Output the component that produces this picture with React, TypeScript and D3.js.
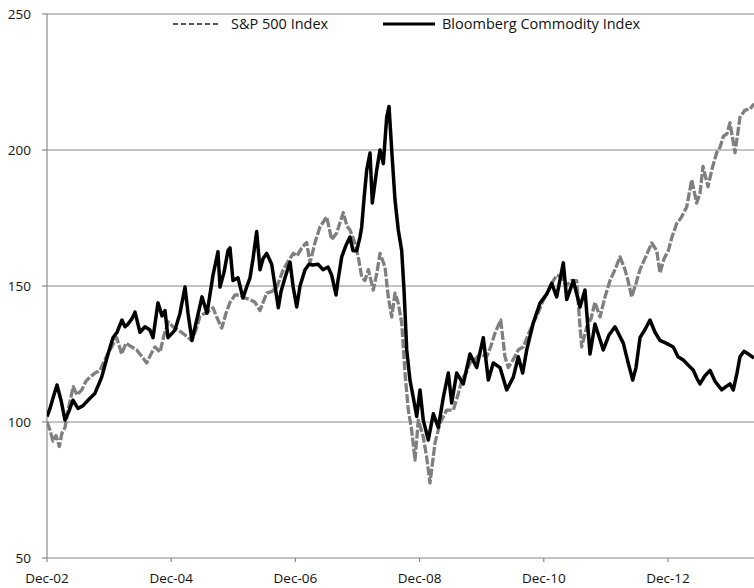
import React from "react";
import * as d3 from "d3";

// time in months since Dec-2002
const spxMonths = [0,0.58,1.16,1.74,2.38,2.9,3.48,4.25,5.08,5.8,6.71,7.54,8.31,9.28,10.24,11.21,12.17,13.47,14.43,15.27,16.04,17.33,18.36,19.27,20.1,20.87,21.84,22.61,23.44,24.35,25.37,26.67,27.96,28.79,29.57,30.53,31.5,32.08,32.79,33.76,34.59,35.36,36.33,37.29,38.26,39.23,40.19,41.16,42.45,43.48,44.39,45.66,46.57,47.6,48.31,49.22,50.18,50.82,51.79,52.75,54.05,55.01,55.98,57.26,57.97,58.55,59.52,60.15,60.81,61.45,62.09,63.05,63.77,64.35,65.31,65.95,66.61,67.25,67.88,68.54,69.18,69.82,70.47,71.11,71.75,72.71,73.37,74.01,74.98,75.94,77.24,78.51,79.42,80.14,80.97,81.74,82.71,83.67,84.97,85.8,86.57,87.67,88.5,89.14,90.11,91.07,92.04,92.95,93.97,94.88,95.9,96.81,97.84,98.55,99.46,100.29,101.26,102.36,102.8,103.32,104.29,105.12,105.89,106.86,107.83,108.79,109.76,110.72,111.69,112.27,112.98,113.82,114.59,115.75,116.85,117.82,118.45,119.23,120.06,120.77,121.68,122.51,123.61,124.58,125.54,126.18,126.76,127.73,128.5,129.41,130.05,130.69,131.4,131.98,132.95,133.91,134.88,135.85,136.62];
const spxValues = [100,97,93,95,91,96,98,106,113,110,111.8,115,116.5,118,119,123,126.5,131,125,129,128,126.5,124,121.7,125,127.6,125.7,132,136.8,135,133.8,132,130,134,139,140,141,142,138.6,134.5,140,144,146.7,146.7,145.6,145,144,141,147.4,148,149.6,156,159,162,161,164,166,158.5,166,171.7,175.4,167,169.5,177,172,170.6,165.8,160.7,153.3,152,156,148.5,155,162,157,146,138.6,147.4,143.7,136.4,118,104.4,97,86,100.7,94.5,87,77.6,92.3,99.6,104.4,104.4,110,115.4,118,121.7,123,125,124,128,132.7,137.5,124,120,123,126.5,127.6,132,136.4,140,144.8,148,152,154,153.3,150,152,152,140,127.6,135,138,144,138.6,146,152,156,160.7,156,152,146,151,156,161,165.8,163,154.8,160,163,168,173,175,179,189,180.5,184,194,186.5,193,199,201,205,206,210,199,212,214.7,215,217];

const cmdMonths = [0,0.58,1.35,1.93,2.71,3.48,4.25,5.02,5.99,6.96,7.92,9.28,10.57,11.79,12.75,13.53,14.49,15.07,15.65,16.43,17,17.97,18.94,19.9,20.48,21.45,22.22,22.8,23.38,24.73,25.7,26.67,27.25,28.02,28.99,29.95,30.92,32.08,33.04,33.43,34.2,34.98,35.36,35.94,36.91,37.87,38.65,39.23,39.81,40.52,41.16,41.74,42.45,43.42,44.06,44.7,45.22,45.99,46.96,47.54,48.25,48.89,49.86,50.63,51.4,52.37,53.33,54.3,55.01,55.85,56.23,56.95,57.78,58.55,59.13,59.85,60.48,60.81,61.26,61.78,62.42,62.86,63.71,64.35,64.99,65.64,66.09,66.61,67.25,67.88,68.54,68.99,69.51,70.14,70.78,71.44,72.08,72.71,73.68,74.65,75.61,76.58,77.55,78.2,79.17,80.44,81.74,83.03,84.31,85.28,86.24,87.54,88.83,90.11,91.07,91.92,92.7,93.97,95.27,96.56,97.53,98.49,99.77,100.43,101.7,103,103.96,104.93,105.89,107.5,108.6,109.76,111.36,112.27,113.18,113.82,114.59,115.56,116.52,117.49,118.45,119.61,121.02,121.93,122.96,123.86,124.89,125.6,126.18,127.15,128.12,129.08,130.38,131.21,131.98,132.62,133.33,133.91,134.69,135.52,136.62];
const cmdValues = [102,105,110,113.6,108,100.7,104,108,105,106,108,110.6,116.5,125,131,133,137.5,135,136,138,140.4,133,135,133.8,131,143.8,139,141,131,133.8,140,149.6,140,130,138,146,140,154,162.6,149.6,155,163,164,152,153,145.6,150,153,160,170,156,160,162,158,150,142,148,153,158.8,150,142.3,150,156,158,157.7,158,156,157,154,146.7,152,160.7,165,168,163,163,168,171.7,182,192.6,198.9,180.5,192.6,200,195,212,216,200,181.6,170.6,163,148.5,126.5,115.4,109,102,111.8,100.7,93.4,103,98,109,118,107,118,114,125,120,131,115.4,121.7,120,111.8,116.5,124,118,126.5,136.5,143.7,147,151,146,158.5,145,152,142.3,148.5,125,136,126.5,132,135,129,122,115.4,120,131,134,137.5,133,130,129,127.6,124,122.8,121,119,116,114,117,119,115,111.8,113,114,111.8,118,124,126,125,123.5];

const yTicks = [50, 100, 150, 200, 250];
const xTickMonths = [0, 24, 48, 72, 96, 120];
const xTickLabels = ["Dec-02", "Dec-04", "Dec-06", "Dec-08", "Dec-10", "Dec-12"];
const seriesNames = ["S&P 500 Index", "Bloomberg Commodity Index"];

const W = 754;
const H = 588;
const FONT = "'Open Sans', sans-serif";

export default function App() {
  const x = d3.scaleLinear().domain([0, 120]).range([47, 668]);
  const y = d3.scaleLinear().domain([50, 250]).range([558, 14]);
  const spx = spxMonths.map((m, i) => [m, spxValues[i]] as [number, number]);
  const cmd = cmdMonths.map((m, i) => [m, cmdValues[i]] as [number, number]);
  const line = d3
    .line<[number, number]>()
    .x((d) => x(d[0]))
    .y((d) => y(d[1]));
  const x0 = x(0);
  const yBottom = y(50);

  return (
    <svg
      width={W}
      height={H}
      style={{ position: "absolute", left: 0, top: 0, background: "#fff" }}
      fontFamily={FONT}
    >
      <defs>
        <clipPath id="plot">
          <rect x={x0} y={0} width={W - x0} height={H} />
        </clipPath>
      </defs>
      {yTicks.slice(1).map((t) => (
        <line key={t} x1={x0} x2={W} y1={y(t)} y2={y(t)} stroke="#8a8a8a" strokeWidth={1.2} />
      ))}
      <line x1={x0} x2={x0} y1={y(250)} y2={yBottom} stroke="#8a8a8a" strokeWidth={1.2} />
      <line x1={x0} x2={W} y1={yBottom} y2={yBottom} stroke="#8a8a8a" strokeWidth={1.2} />
      {yTicks.map((t) => (
        <g key={t}>
          <line x1={x0 - 5} x2={x0} y1={y(t)} y2={y(t)} stroke="#8a8a8a" strokeWidth={1.2} />
          <text x={31} y={y(t) + 4.5} textAnchor="end" fontSize={13.5} fill="#111">
            {t}
          </text>
        </g>
      ))}
      {xTickMonths.map((m, i) => (
        <g key={m}>
          <line x1={x(m)} x2={x(m)} y1={yBottom} y2={yBottom + 4} stroke="#8a8a8a" strokeWidth={1.2} />
          <text x={x(m)} y={583} textAnchor="middle" fontSize={13.5} fill="#111">
            {xTickLabels[i]}
          </text>
        </g>
      ))}
      <g clipPath="url(#plot)">
        <path
          d={line(spx) || ""}
          fill="none"
          stroke="#7f7f7f"
          strokeWidth={3.3}
          strokeDasharray="9,2"
          strokeLinejoin="round"
        />
        <path
          d={line(cmd) || ""}
          fill="none"
          stroke="#000"
          strokeWidth={3.5}
          strokeLinejoin="round"
        />
      </g>
      <line x1={173} x2={220} y1={24} y2={24} stroke="#555" strokeWidth={2} strokeDasharray="5,3" />
      <text x={231} y={29} fontSize={14.5} fill="#111">
        {seriesNames[0]}
      </text>
      <line x1={383} x2={435} y1={24} y2={24} stroke="#000" strokeWidth={3} />
      <text x={442} y={29} fontSize={14.5} fill="#111">
        {seriesNames[1]}
      </text>
    </svg>
  );
}
